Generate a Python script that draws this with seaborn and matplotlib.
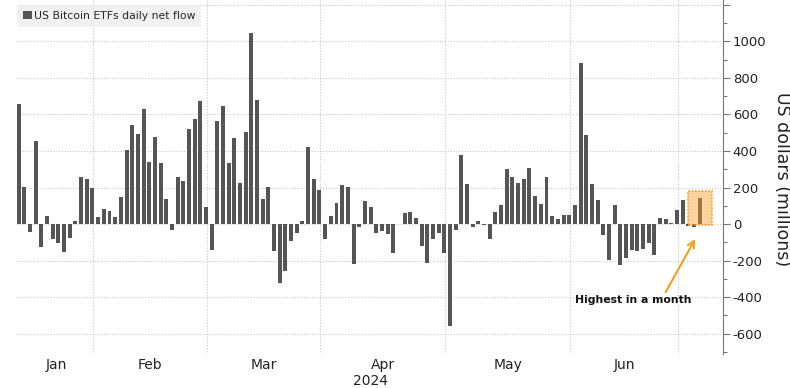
import numpy as np
import pandas as pd
import matplotlib
matplotlib.use("Agg")
import matplotlib.pyplot as plt
import matplotlib.ticker as mticker
from matplotlib.patches import Rectangle, Patch
import seaborn as sns

# ---- data (US Bitcoin ETFs daily net flow, US$ millions, trading days) ----
months = ["Jan", "Feb", "Mar", "Apr", "May", "Jun", "Jul"]
jan = [655, 205, -46, 454, -124, 45, -84, -104, -154, -75, 16, 257, 245, 198]
feb = [38, 82, 70, 36, 147, 404, 541, 492, 631, 342, 475, 332, 136, -33,
       255, 234, 518, 578, 672, 95]
mar = [-140, 563, 648, 332, 473, 225, 502, 1044, 682, 135, 201, -150, -323,
       -259, -91, -47, 16, 420, 244, 184]
apr = [-83, 44, 114, 215, 205, -220, -16, 124, 93, -51, -36, -55, -160, -2,
       60, 64, 32, -118, -212, -80, -47, -156]
may = [-556, -32, 376, 219, -14, 14, -7, -83, 67, 104, 304, 257, 223, 244,
       306, 156, 111, 255, 46, 27, 50, 50]
jun = [105, 884, 489, 219, 132, -62, -196, 104, -222, -185, -143, -150, -135,
       -102, -171, 32, 25, 7, 75]
jul = [131, -11, -15, 144]
series_label = "US Bitcoin ETFs daily net flow"
year_label = "2024"
annotation = "Highest in a month"
y_label = "US dollars (millions)"

month_data = [jan, feb, mar, apr, may, jun, jul]
flows = [v for m in month_data for v in m]
df = pd.DataFrame({"day": np.arange(len(flows)), "flow": flows})

first_idx = np.cumsum([0] + [len(m) for m in month_data])[:-1]

# ---- style ----
sns.set_theme(style="white")
plt.rcParams["font.family"] = ["DejaVu Sans"]
plt.rcParams["axes.unicode_minus"] = False

W, H = 790, 388
fig = plt.figure(figsize=(W / 100, H / 100), dpi=100)
ax_left, ax_right, ax_top, ax_bot = 16.7, 723, 0.4, 354
ax = fig.add_axes([ax_left / W, 1 - ax_bot / H, (ax_right - ax_left) / W,
                   (ax_bot - ax_top) / H])

bar_color = "#555555"
sns.barplot(data=df, x="day", y="flow", color=bar_color, saturation=1,
            width=0.7, native_scale=True, errorbar=None, ax=ax, zorder=2,
            linewidth=0, edgecolor="none")

ax.set_xlim(-0.35, 124.1)
ax.set_ylim(-712, 1225)

# month boundaries (vertical grid) and month labels
bounds = [b - 0.85 for b in first_idx[1:]]
starts = [0] + bounds[:-1]
centers = [(a + b) / 2 for a, b in zip(starts, bounds)]
ax.set_xticks(bounds)
ax.set_xticklabels([])
ax.set_xticks(centers, minor=True)
ax.set_xticklabels(months[:-1], minor=True)
ax.tick_params(axis="x", which="both", length=0, pad=3, labelsize=10,
               labelcolor="#222222")
ax.xaxis.grid(True, which="major", linestyle=(0, (1, 1.5)), color="#c8c8c8",
              linewidth=0.8)
ax.set_xlabel("")

# y axis on the right
ax.yaxis.tick_right()
major = list(range(-600, 1201, 200))
ax.yaxis.set_major_locator(mticker.FixedLocator(major))
ax.yaxis.set_major_formatter(mticker.FuncFormatter(
    lambda v, p: "" if v > 1100 else f"{int(v)}"))
ax.yaxis.set_minor_locator(mticker.FixedLocator(list(range(-700, 1201, 100))))
ax.tick_params(axis="y", which="major", length=5, width=0.8, color="#777777",
               labelsize=9.5, pad=2, labelcolor="#222222", right=True, left=False)
ax.tick_params(axis="y", which="minor", length=3, width=0.8, color="#777777",
               right=True, left=False)
ax.yaxis.grid(True, which="major", linestyle=(0, (1, 1.5)), color="#c8c8c8",
              linewidth=0.8)
ax.set_ylabel("")
for s in ["left", "top", "bottom"]:
    ax.spines[s].set_visible(False)
ax.spines["right"].set_color("#777777")
ax.spines["right"].set_linewidth(0.8)
ax.set_axisbelow(True)

fig.text(782 / W, 1 - 179 / H, y_label, rotation=-90, ha="center",
         va="center", fontsize=12.5, color="#222222")

# year label
ax.text((371 - 18.7) / 5.676, -0.075, year_label, transform=ax.get_xaxis_transform(),
        ha="center", va="center", fontsize=10, color="#222222")

# legend
leg = ax.legend(handles=[Patch(facecolor=bar_color, edgecolor="none")],
                labels=[series_label], loc="upper left",
                bbox_to_anchor=(17 / W, 1 - 5 / H), bbox_transform=fig.transFigure,
                borderaxespad=0, frameon=True, fancybox=False, fontsize=7.8,
                handlelength=0.8, handleheight=0.8, handletextpad=0.2,
                borderpad=0.55)
leg.get_frame().set_facecolor("#eeeeee")
leg.get_frame().set_edgecolor("none")

# highlight box + annotation
orange = "#f5a020"
ax.add_patch(Rectangle((117.95, -5), 4.25, 186, facecolor=(1.0, 0.62, 0.15, 0.45),
                       edgecolor=orange, linestyle=(0, (1, 1)), linewidth=1.2,
                       zorder=4))
ax.annotate("", xy=(119.2, -82), xytext=(114.0, -373),
            arrowprops=dict(arrowstyle="->", color=orange, lw=1.5,
                            shrinkA=0, shrinkB=0, mutation_scale=12))
ax.text(108.2, -416, annotation, ha="center", va="center", fontsize=7.8,
        fontweight="bold", color="#111111")

fig.savefig("out.png", dpi=100)
